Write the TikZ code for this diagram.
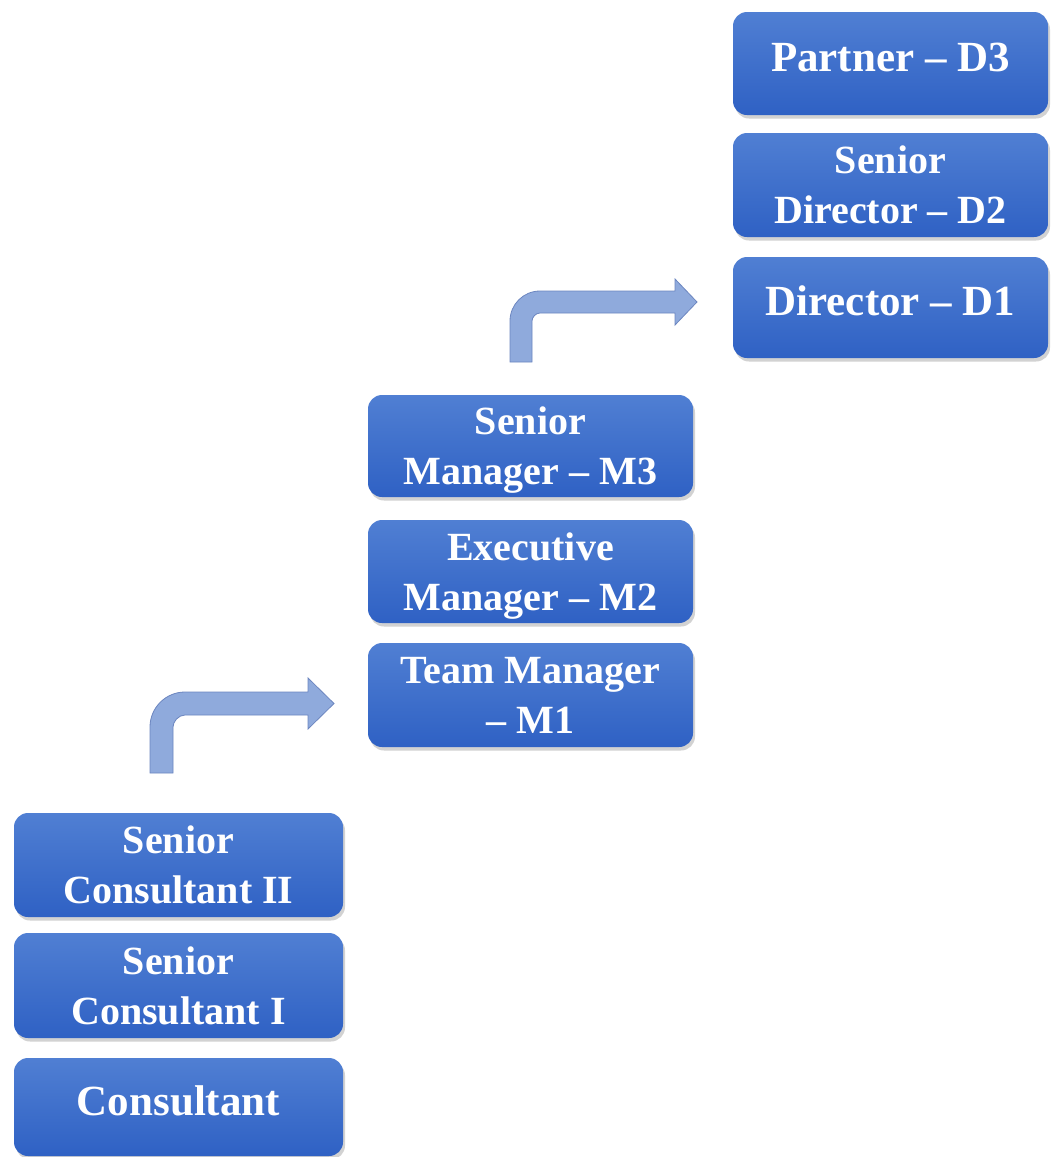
\documentclass[tikz,border=0pt]{standalone}
\usepackage{fontspec}
\setmainfont{Liberation Serif}
\usetikzlibrary{shadows}
\definecolor{boxtop}{RGB}{80,127,211}
\definecolor{boxbot}{RGB}{47,97,196}
\definecolor{arrfill}{RGB}{143,170,220}
\definecolor{arrline}{RGB}{108,134,192}
\begin{document}
\begin{tikzpicture}[x=1pt,y=-1pt,
  rank/.style={rounded corners=14pt, top color=boxtop, bottom color=boxbot,
    draw=none, text=white, align=center, inner sep=0pt,
    drop shadow={shadow xshift=2pt, shadow yshift=-3.5pt, opacity=0.25, fill=black!70}},
  two/.style={rank, font=\bfseries\fontsize{40}{50}\selectfont, text depth=0pt},
  one/.style={rank, font=\bfseries\fontsize{43}{50}\selectfont, text depth=13pt},
  bent/.style={fill=arrfill, draw=arrline, line width=0.8pt, line join=miter}]
\useasboundingbox[fill=white] (0,0) rectangle (1050,1157);

% left column
\node[two, minimum width=329pt, minimum height=104pt] (sc2) at (178.5,865) {Senior\\Consultant II};
\node[two, minimum width=329pt, minimum height=105pt] (sc1) at (178.5,985.5) {Senior\\Consultant I};
\node[one, minimum width=329pt, minimum height=98pt] (con) at (178.5,1107) {Consultant};

% middle column
\node[two, minimum width=325pt, minimum height=102pt] (m3) at (530.5,446) {Senior\\Manager – M3};
\node[two, minimum width=325pt, minimum height=103pt] (m2) at (530.5,571.5) {Executive\\Manager – M2};
\node[two, minimum width=325pt, minimum height=104pt] (m1) at (530.5,695) {Team Manager\\– M1};

% right column
\node[one, minimum width=315pt, minimum height=103pt] (d3) at (890.5,63.5) {Partner – D3};
\node[two, minimum width=315pt, minimum height=104pt] (d2) at (890.5,185) {Senior\\Director – D2};
\node[one, minimum width=315pt, minimum height=101pt] (d1) at (890.5,307.5) {Director – D1};

% bent arrows
\draw[bent] (150,773) -- (150,727) .. controls (150,707.7) and (165.7,692) .. (185,692)
  -- (308,692) -- (308,678) -- (334,703.5) -- (308,729) -- (308,715) -- (185,715)
  .. controls (178.4,715) and (173,721.6) .. (173,727) -- (173,773) -- cycle;
\draw[bent] (510,362) -- (510,321) .. controls (510,304.4) and (523.4,291) .. (540,291)
  -- (675,291) -- (675,279) -- (697,302) -- (675,325) -- (675,313) -- (540,313)
  .. controls (535.6,313) and (532,317.4) .. (532,321) -- (532,362) -- cycle;
\end{tikzpicture}
\end{document}
